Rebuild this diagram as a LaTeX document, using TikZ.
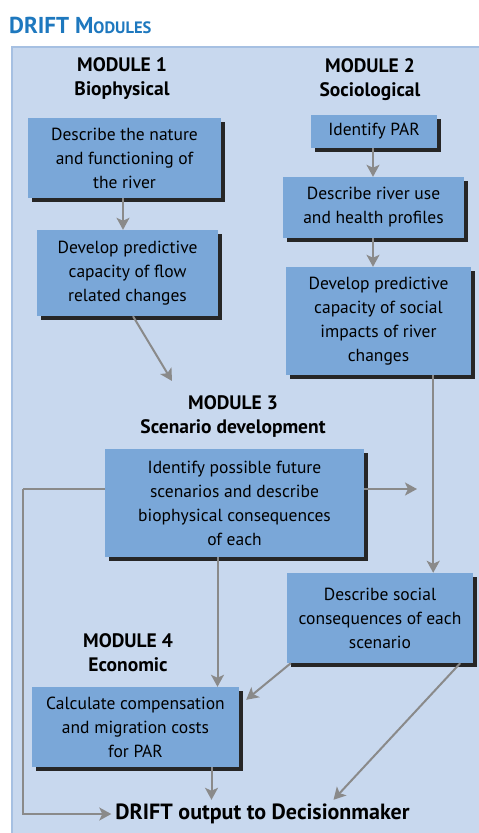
\documentclass[tikz,border=0pt]{standalone}
\usepackage{fontspec}
\setmainfont{PT Sans}
\usetikzlibrary{arrows.meta,shadows}
\definecolor{panelblue}{HTML}{C8D8EE}
\definecolor{panelline}{HTML}{A6C0E2}
\definecolor{boxblue}{HTML}{7AA7D8}
\definecolor{arrowgray}{HTML}{8A8A8A}
\definecolor{titleblue}{HTML}{1E78BE}
\tikzset{
	stepbox/.style={fill=boxblue, draw=none, align=center, inner sep=0pt, font=\fontsize{17.5}{24}\selectfont, drop shadow={shadow xshift=4pt, shadow yshift=-4pt, fill=black!85, opacity=1}},
	modhead/.style={align=center, font=\bfseries\fontsize{19.5}{24}\selectfont},
	flowline/.style={draw=arrowgray, line width=2pt, -{Stealth[length=12pt,width=13pt,inset=3pt]}},
	plainline/.style={draw=arrowgray, line width=2pt},
}

\begin{document}
\begin{tikzpicture}[x=1pt, y=-1pt]
			%%%%% START %%%%%
			\useasboundingbox (0, 0) rectangle (479, 833);
			
			\node[anchor=base west, text=titleblue, font=\bfseries, inner sep=0pt] (title) at (9, 33) {{\fontsize{23}{23}\selectfont DRIFT M}{\fontsize{16.5}{16.5}\selectfont ODULES}};
			
			\draw[fill=panelblue, draw=panelline, line width=1.5pt] (12, 47) rectangle (483, 837);
			
			% module headings
			\node[modhead] (m1) at (122, 79) {MODULE 1\\Biophysical};
			\node[modhead] (m2) at (370, 80) {MODULE 2\\Sociological};
			\node[modhead] (m3) at (233, 416) {MODULE 3\\Scenario development};
			\node[modhead] (m4) at (128, 653) {MODULE 4\\Economic};
			
			% boxes
			\node[stepbox, minimum width=193, minimum height=80] (nature) at (124.5, 158) {Describe the nature\\and functioning of\\the river};
			\node[stepbox, minimum width=181, minimum height=86] (flow) at (127.5, 273) {Develop predictive\\capacity of flow\\related changes};
			\node[stepbox, minimum width=126, minimum height=33] (par) at (374, 131.5) {Identify PAR};
			\node[stepbox, minimum width=181, minimum height=61] (use) at (373.5, 207.5) {Describe river use\\and health profiles};
			\node[stepbox, minimum width=185, minimum height=108] (social) at (378.5, 321) {Develop predictive\\capacity of social\\impacts of river\\changes};
			\node[stepbox, minimum width=259, minimum height=108] (scen) at (234.5, 503) {Identify possible future\\scenarios and describe\\biophysical consequences\\of each};
			\node[stepbox, minimum width=186, minimum height=90] (conseq) at (380, 618) {Describe social\\consequences of each\\scenario};
			\node[stepbox, minimum width=207, minimum height=80] (calc) at (135.5, 727) {Calculate compensation\\and migration costs\\for PAR};
			
			\node[font=\bfseries\fontsize{22}{24}\selectfont, inner sep=4pt] (out) at (262.5, 814) {DRIFT output to Decisionmaker};
			
			% connectors
			\coordinate (m3in) at (172, 381);
			\coordinate (left) at (23, 489);
			\coordinate (sideout) at (417, 489);
			
			\draw[flowline] (nature.south -| 123, 0) -- (flow.north -| 123, 0);
			\draw[flowline] (par.south -| 373, 0) -- (use.north -| 373, 0);
			\draw[flowline] (use.south -| 373, 0) -- (social.north -| 373, 0);
			\draw[flowline] (flow.south -| 133, 0) -- (m3in);
			\draw[plainline] (scen.west |- left) -- (left);
			\draw[flowline] (left) |- (out.west);
			\draw[flowline] (scen.east |- sideout) -- (sideout);
			\draw[flowline] ([xshift=-38pt]social.south east) -- ([xshift=-40pt]conseq.north east);
			\draw[flowline] ([xshift=-17pt]scen.south) -- ([xshift=-17pt]scen.south |- calc.north);
			\draw[flowline] ([xshift=76pt]calc.south) -- ([xshift=76pt]calc.south |- out.north);
			\draw[flowline] ([xshift=4pt]conseq.south west) -- ([shift={(7pt,-13pt)}]calc.north east);
			\draw[flowline] ([xshift=-13pt]conseq.south east) -- ([xshift=71pt]out.north);
			
			%%%%% END %%%%%
		\end{tikzpicture}
\end{document}
